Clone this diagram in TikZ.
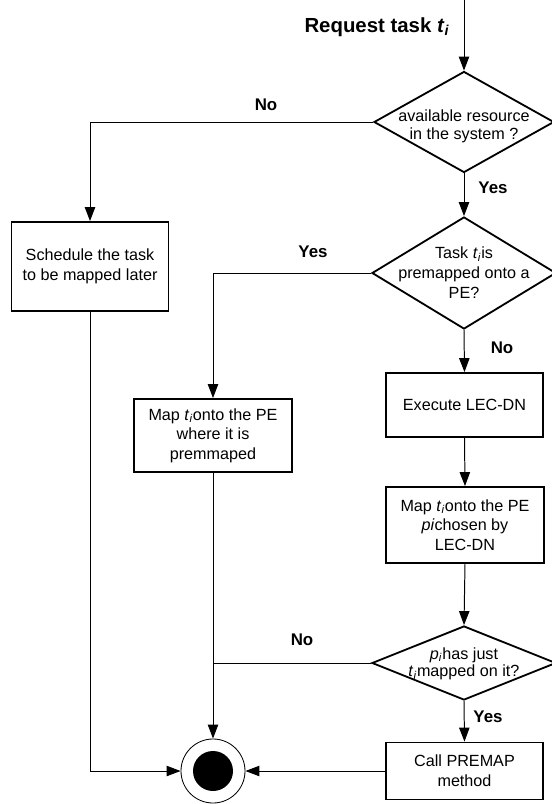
\documentclass[tikz,border=0pt]{standalone}
\usepackage{fontspec}
\setmainfont{Liberation Sans}
\usetikzlibrary{shapes.geometric,arrows.meta}
\newcommand{\tsub}{\textit{t}\textsubscript{\textit{i}}}
\newcommand{\psub}{\textit{p}\textsubscript{\textit{i}}}
\tikzset{
  flowbox/.style={draw,line width=1.3pt,align=center,inner sep=0pt,font=\fontsize{11.5}{14}\selectfont},
  decision/.style={diamond,draw,line width=1.3pt,inner sep=0pt},
  dtext/.style={align=center,inner sep=0pt,font=\fontsize{11.5}{13}\selectfont},
  lbl/.style={inner sep=0pt,font=\fontsize{12}{14}\bfseries\selectfont},
  wire/.style={line width=0.7pt},
  conn/.style={wire,-{Triangle[length=3.5mm,width=2.6mm]}},
}
\begin{document}
\begin{tikzpicture}[x=0.025cm,y=-0.025cm]
\useasboundingbox (0,0) rectangle (552,804);
%
\coordinate (start) at (464,0);
\node[lbl,font=\fontsize{14.5}{17}\bfseries\selectfont] (req) at (377,27) {Request task \textit{t}\textsubscript{\textit{i}}};
%
\node[decision,minimum width=4.5cm,minimum height=2.525cm] (d1) at (464,122) {};
\node[dtext] (d1t) at (464,126) {available resource\\in the system ?};
\node[decision,minimum width=4.6cm,minimum height=2.8cm] (d2) at (464,273) {};
\node[dtext,font=\fontsize{11.5}{14.2}\selectfont] (d2t) at (464,273) {Task \tsub is\\premapped onto a\\PE?};
\node[decision,minimum width=4.6cm,minimum height=1.85cm] (d3) at (464,663) {};
\node[dtext,font=\fontsize{11.5}{12.5}\selectfont] (d3t) at (464,664) {\psub has just\\\tsub mapped on it?};
%
\node[flowbox,minimum width=3.925cm,minimum height=2.225cm] (sched) at (90,266.5) {Schedule the task\\to be mapped later};
\node[flowbox,minimum width=3.95cm,minimum height=1.825cm] (mapA) at (213,435.5) {Map \tsub onto the PE\\where it is\\premmaped};
\node[flowbox,minimum width=3.925cm,minimum height=1.6cm] (exec) at (464.5,405) {Execute LEC-DN};
\node[flowbox,minimum width=3.95cm,minimum height=1.9cm] (mapB) at (465,525) {Map \tsub onto the PE\\\textit{pi}chosen by\\LEC-DN};
\node[flowbox,minimum width=3.925cm,minimum height=1.425cm] (call) at (464.5,771) {Call PREMAP\\method};
%
\node[circle,draw,line width=0.6pt,minimum size=1.6cm,inner sep=0pt] (endc) at (213,771) {};
\fill (endc.center) circle (20) node (endi) {};
%
\draw[conn] (start) -- (d1.north);
\draw[conn] (d1.west) -| (sched.north);
\draw[conn] (d1.south) -- (d2.north);
\draw[conn] (d2.west) -| (mapA.north);
\draw[conn] (d2.south) -- (exec.north);
\draw[conn] (exec.south) -- (mapB.north);
\draw[conn] (mapB.south) -- (d3.north);
\draw[wire] (d3.west) -- (d3.west -| mapA.south);
\draw[conn] (mapA.south) -- (endc.north);
\draw[conn] (d3.south) -- (call.north);
\draw[conn] (call.west) -- (endc.east);
\draw[conn] (sched.south) |- (endc.west);
%
\node[lbl] (no1) at (266,105) {No};
\node[lbl] (yes1) at (493,188) {Yes};
\node[lbl] (yes2) at (313,252) {Yes};
\node[lbl] (no2) at (502,348) {No};
\node[lbl] (no3) at (302,640) {No};
\node[lbl] (yes3) at (488,717) {Yes};
\end{tikzpicture}
\end{document}
